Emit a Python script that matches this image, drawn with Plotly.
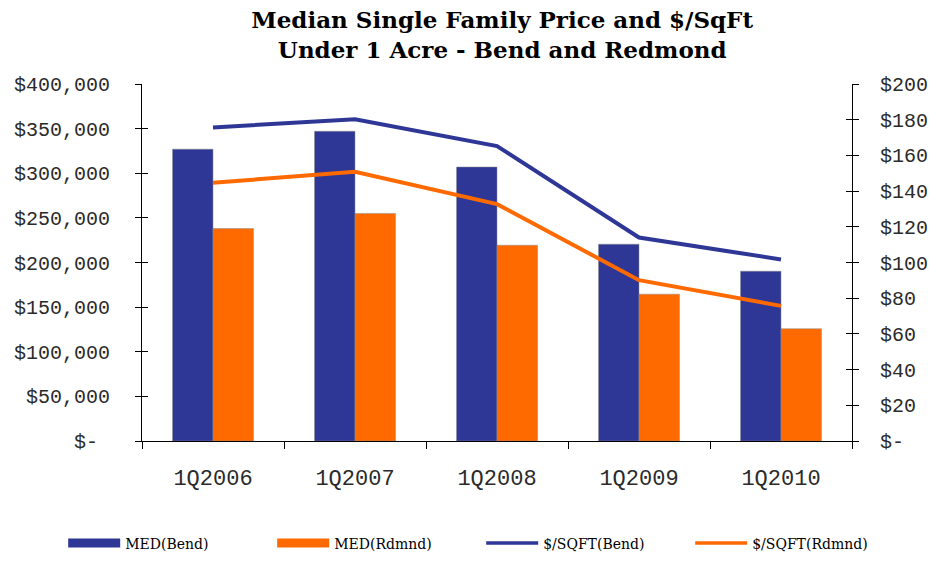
import plotly.graph_objects as go

categories = ["1Q2006", "1Q2007", "1Q2008", "1Q2009", "1Q2010"]
med_bend = [327000, 347000, 307000, 220500, 190300]
med_rdmnd = [238000, 255000, 219300, 164500, 125800]
sqft_bend = [175.7, 180.2, 165.2, 114.0, 101.7]
sqft_rdmnd = [144.7, 150.8, 132.7, 90.1, 75.7]

left_tickvals = [0, 50000, 100000, 150000, 200000, 250000, 300000, 350000, 400000]
left_ticktext = ["$-\u00a0", "$50,000", "$100,000", "$150,000", "$200,000",
                 "$250,000", "$300,000", "$350,000", "$400,000"]
right_tickvals = [0, 20, 40, 60, 80, 100, 120, 140, 160, 180, 200]
right_ticktext = ["$-", "$20", "$40", "$60", "$80", "$100", "$120",
                  "$140", "$160", "$180", "$200"]

BLUE = "#2E3796"
ORANGE = "#FF6A00"
TICKFONT = dict(family="Liberation Mono", size=20, color="#2a2a2a")

fig = go.Figure()
fig.add_trace(go.Bar(x=categories, y=med_bend, name="MED(Bend)", showlegend=False,
                     marker=dict(color=BLUE, line=dict(width=0.5, color="#888888"))))
fig.add_trace(go.Bar(x=categories, y=med_rdmnd, name="MED(Rdmnd)", showlegend=False,
                     marker=dict(color=ORANGE, line=dict(width=0.5, color="#888888"))))
fig.add_trace(go.Scatter(x=categories, y=sqft_bend, name="$/SQFT(Bend)", yaxis="y2",
                         mode="lines", line=dict(color=BLUE, width=4), showlegend=False))
fig.add_trace(go.Scatter(x=categories, y=sqft_rdmnd, name="$/SQFT(Rdmnd)", yaxis="y2",
                         mode="lines", line=dict(color=ORANGE, width=4), showlegend=False))

# legend entries (bars shown as wide rectangles like the reference legend)
legend_names = ["MED(Bend)", "MED(Rdmnd)", "$/SQFT(Bend)", "$/SQFT(Rdmnd)"]
legend_colors = [BLUE, ORANGE, BLUE, ORANGE]
legend_widths = [9, 9, 3.5, 3.5]
for n, c, w in zip(legend_names, legend_colors, legend_widths):
    fig.add_trace(go.Scatter(x=[categories[0]], y=[None], name=n, mode="lines",
                             line=dict(color=c, width=w), hoverinfo="skip"))

# page body has an 8px margin: figure is 922x547 drawn at offset (8, 8)
fig.update_layout(
    width=922, height=547,
    margin=dict(l=134, r=78, t=76, b=114, autoexpand=False),
    plot_bgcolor="white", paper_bgcolor="white",
    barmode="group", bargap=0.43, bargroupgap=0,
    title=dict(
        text="Median Single Family Price and $/SqFt<br>Under 1 Acre - Bend and Redmond",
        x=0.536, xanchor="center", y=0.963, yanchor="middle",
        font=dict(family="DejaVu Serif", size=23, color="#000000", weight="bold"),
    ),
    xaxis=dict(
        type="category", tickson="boundaries", ticks="outside", ticklen=7,
        tickcolor="#000", showline=True, linecolor="#000", linewidth=1,
        showgrid=False, tickfont=dict(family="Liberation Mono", size=22, color="#2a2a2a"),
        ticklabelstandoff=17, automargin=False,
    ),
    yaxis=dict(
        range=[0, 400000], tickvals=left_tickvals, ticktext=left_ticktext,
        ticks="outside", ticklen=6, tickcolor="#000", showline=True,
        linecolor="#000", linewidth=1, showgrid=False, zeroline=False,
        tickfont=TICKFONT, ticklabelstandoff=21, automargin=False,
    ),
    yaxis2=dict(
        range=[0, 200], tickvals=right_tickvals, ticktext=right_ticktext,
        overlaying="y", side="right", ticks="outside", ticklen=6,
        tickcolor="#000", showline=True, linecolor="#000", linewidth=1,
        showgrid=False, zeroline=False, tickfont=TICKFONT, ticklabelstandoff=17,
        automargin=False,
    ),
    yaxis3=dict(
        range=[0, 400000], tickvals=left_tickvals, overlaying="y", side="left",
        ticks="inside", ticklen=6, tickcolor="#000", showticklabels=False,
        showline=False, showgrid=False, zeroline=False, automargin=False,
    ),
    yaxis4=dict(
        range=[0, 200], tickvals=right_tickvals, overlaying="y", side="right",
        ticks="inside", ticklen=6, tickcolor="#000", showticklabels=False,
        showline=False, showgrid=False, zeroline=False, automargin=False,
    ),
    legend=dict(
        orientation="h", x=-0.111, xanchor="left", y=-0.287, yanchor="middle",
        font=dict(family="DejaVu Serif", size=14, color="#000"),
        entrywidth=142, entrywidthmode="pixels", itemwidth=52,
        traceorder="normal",
    ),
)
# dummy traces to activate inside-tick axes
fig.add_trace(go.Scatter(x=[categories[0]], y=[None], yaxis="y3", showlegend=False, hoverinfo="skip"))
fig.add_trace(go.Scatter(x=[categories[0]], y=[None], yaxis="y4", showlegend=False, hoverinfo="skip"))

fig.write_html("out.html")
